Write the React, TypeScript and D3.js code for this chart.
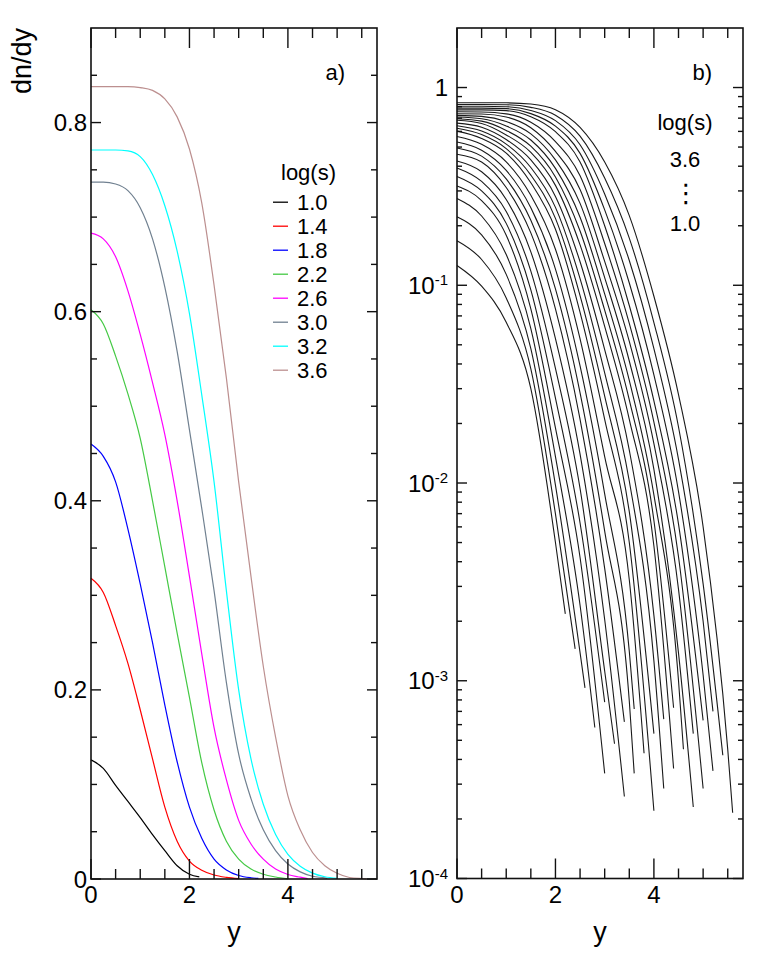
import React from 'react';
import * as d3 from 'd3';

const FONT = '"Liberation Sans", Arial, Helvetica, sans-serif';

// ---- panel a): eight log(s) values, dn/dy read every 0.25 in y ----
const fineY = [0, 0.25, 0.5, 0.75, 1, 1.25, 1.5, 1.75, 2, 2.25, 2.5, 2.75, 3, 3.25, 3.5, 3.75, 4, 4.25, 4.5, 4.75, 5, 5.25, 5.5];

const panelALabels = ['1.0', '1.4', '1.8', '2.2', '2.6', '3.0', '3.2', '3.6'];
const panelAColors = ['#000000', '#ff0000', '#0000ff', '#44c944', '#ff00ff', '#708090', '#00ffff', '#bc8f8f'];

const dndyA10 = [0.126, 0.117, 0.099, 0.082, 0.065, 0.047, 0.030, 0.014, 0.005];
const dndyA14 = [0.318, 0.303, 0.268, 0.228, 0.179, 0.127, 0.076, 0.040, 0.019, 0.0093, 0.0042, 0.0017];
const dndyA18 = [0.460, 0.447, 0.420, 0.370, 0.312, 0.250, 0.184, 0.124, 0.076, 0.043, 0.021, 0.0096, 0.0037, 0.0013];
const dndyA22 = [0.602, 0.587, 0.553, 0.513, 0.466, 0.400, 0.330, 0.260, 0.192, 0.123, 0.073, 0.040, 0.021, 0.0105, 0.0050, 0.0021];
const dndyA26 = [0.683, 0.677, 0.658, 0.622, 0.576, 0.525, 0.470, 0.400, 0.320, 0.238, 0.160, 0.105, 0.062, 0.037, 0.021, 0.0105, 0.0048, 0.0019];
const dndyA30 = [0.737, 0.737, 0.735, 0.728, 0.710, 0.677, 0.626, 0.558, 0.475, 0.392, 0.305, 0.208, 0.132, 0.085, 0.052, 0.030, 0.0158, 0.0075, 0.0029, 0.0011];
const dndyA32 = [0.771, 0.771, 0.771, 0.770, 0.764, 0.745, 0.712, 0.664, 0.598, 0.512, 0.420, 0.305, 0.200, 0.127, 0.079, 0.047, 0.026, 0.0135, 0.0062, 0.0024];
const dndyA36 = [0.838, 0.838, 0.838, 0.838, 0.837, 0.834, 0.825, 0.806, 0.772, 0.715, 0.628, 0.530, 0.420, 0.320, 0.225, 0.150, 0.088, 0.052, 0.028, 0.014, 0.0060, 0.0016, 0.00045];
const panelAValues = [dndyA10, dndyA14, dndyA18, dndyA22, dndyA26, dndyA30, dndyA32, dndyA36];
const panelAEndY = [2.2, 3.0, 3.4, 4.0, 4.4, 4.8, 5.0, 5.6];
const panelAEndV = [0.0022, 0.00034, 0.00062, 0.00022, 0.00036, 0.00054, 0.00063, 0.000215];

// ---- panel b): log(s) = 1.0 ... 3.6, dn/dy read every 0.5 in y ----
const coarseY = [0, 0.5, 1, 1.5, 2, 2.5, 3, 3.5, 4, 4.5, 5, 5.5];

const panelBLogS = [1.0, 1.1, 1.2, 1.3, 1.4, 1.5, 1.6, 1.7, 1.8, 1.9, 2.0, 2.1, 2.2, 2.3, 2.4, 2.5, 2.6, 2.7, 2.8, 2.9, 3.0, 3.1, 3.2, 3.3, 3.4, 3.5, 3.6];
const panelBValues = [
  [0.126, 0.099, 0.065, 0.030, 0.005],
  [0.168, 0.135, 0.0863, 0.0378, 0.00698],
  [0.222, 0.180, 0.1135, 0.0478, 0.00975],
  [0.275, 0.224, 0.143, 0.0603, 0.0136, 0.00241],
  [0.318, 0.268, 0.179, 0.076, 0.019, 0.0042],
  [0.355, 0.300, 0.2056, 0.0948, 0.0269, 0.00628],
  [0.392, 0.335, 0.236, 0.118, 0.0380, 0.00938, 0.00112],
  [0.425, 0.375, 0.2716, 0.1476, 0.0537, 0.0140, 0.00204],
  [0.460, 0.420, 0.312, 0.184, 0.076, 0.021, 0.0037],
  [0.495, 0.450, 0.345, 0.213, 0.0958, 0.0286, 0.00571, 0.00079],
  [0.530, 0.482, 0.381, 0.2466, 0.1208, 0.0391, 0.00881, 0.00141],
  [0.565, 0.516, 0.421, 0.2853, 0.1522, 0.0535, 0.0136, 0.00324],
  [0.602, 0.553, 0.466, 0.330, 0.192, 0.073, 0.021, 0.0050],
  [0.622, 0.578, 0.491, 0.3606, 0.218, 0.0887, 0.0275, 0.00716],
  [0.641, 0.603, 0.5176, 0.394, 0.2477, 0.108, 0.0361, 0.01024, 0.00126],
  [0.661, 0.630, 0.546, 0.4305, 0.2815, 0.1315, 0.0473, 0.01466, 0.00214],
  [0.683, 0.658, 0.576, 0.470, 0.320, 0.160, 0.062, 0.021, 0.0048],
  [0.695, 0.676, 0.607, 0.505, 0.353, 0.188, 0.0748, 0.0263, 0.00646],
  [0.709, 0.695, 0.639, 0.5427, 0.390, 0.2208, 0.0904, 0.0330, 0.00871, 0.0010],
  [0.723, 0.715, 0.673, 0.583, 0.4305, 0.2594, 0.1094, 0.0414, 0.01173, 0.00138],
  [0.737, 0.735, 0.710, 0.626, 0.475, 0.305, 0.132, 0.052, 0.0158, 0.0029],
  [0.754, 0.752, 0.736, 0.6676, 0.533, 0.3577, 0.1626, 0.0641, 0.0203, 0.00424],
  [0.771, 0.771, 0.764, 0.712, 0.598, 0.420, 0.200, 0.079, 0.026, 0.0062],
  [0.787, 0.787, 0.782, 0.738, 0.638, 0.4645, 0.2407, 0.1027, 0.0352, 0.00904, 0.00107],
  [0.804, 0.804, 0.800, 0.766, 0.680, 0.5134, 0.2897, 0.1334, 0.0478, 0.01317, 0.0020],
  [0.820, 0.820, 0.818, 0.794, 0.7244, 0.5675, 0.3487, 0.1732, 0.0648, 0.0192, 0.00309],
  [0.838, 0.838, 0.837, 0.825, 0.772, 0.628, 0.420, 0.225, 0.088, 0.028, 0.0060, 0.00045],
];
const panelBEndY = [2.2, 2.4, 2.6, 2.8, 3.0, 3.0, 3.2, 3.4, 3.4, 3.6, 3.6, 3.8, 4.0, 4.0, 4.2, 4.2, 4.4, 4.4, 4.6, 4.8, 4.8, 5.0, 5.0, 5.2, 5.2, 5.4, 5.6];
const panelBEndV = [0.00218, 0.00145, 0.00092, 0.00058, 0.00034, 0.00078, 0.00048, 0.00026, 0.00062, 0.00034, 0.00072, 0.00043, 0.00022, 0.00054, 0.000285, 0.00064, 0.00036, 0.00073, 0.00045, 0.00023, 0.00054, 0.000285, 0.00063, 0.00035, 0.00070, 0.00042, 0.000215];

// ---- ticks ----
const yMajorTicks = [0, 2, 4];
const yMinorTicks = [0.5, 1, 1.5, 2.5, 3, 3.5, 4.5, 5, 5.5];
const linMajorTicks = [0, 0.2, 0.4, 0.6, 0.8];
const linMinorTicks = [0.05, 0.1, 0.15, 0.25, 0.3, 0.35, 0.45, 0.5, 0.55, 0.65, 0.7, 0.75, 0.85];
const logMajorExp = [-4, -3, -2, -1, 0];

const frameA = { left: 91, right: 377, top: 28, bottom: 879 };
const frameB = { left: 457, right: 743, top: 28, bottom: 878.5 };

type Pt = [number, number];

function buildPoints(grid: number[], vals: number[], endY: number, endV: number): Pt[] {
  const pts: Pt[] = vals.map((v, k) => [grid[k], v] as Pt);
  pts.push([endY, endV]);
  return pts;
}

function FrameTicks({ f, x, y, yMaj, yMin, xMajLen, xMinLen, yMajLen, yMinLen }: any) {
  return (
    <g stroke="#111" strokeWidth={1.4}>
      {yMajorTicks.map((t) => (
        <g key={'xM' + t}>
          <line x1={x(t)} x2={x(t)} y1={f.bottom} y2={f.bottom - xMajLen} />
          <line x1={x(t)} x2={x(t)} y1={f.top} y2={f.top + xMajLen} />
        </g>
      ))}
      {yMinorTicks.map((t) => (
        <g key={'xm' + t}>
          <line x1={x(t)} x2={x(t)} y1={f.bottom} y2={f.bottom - xMinLen} />
          <line x1={x(t)} x2={x(t)} y1={f.top} y2={f.top + xMinLen} />
        </g>
      ))}
      {yMaj.map((t: number) => (
        <g key={'yM' + t}>
          <line x1={f.left} x2={f.left + yMajLen} y1={y(t)} y2={y(t)} />
          <line x1={f.right} x2={f.right - yMajLen} y1={y(t)} y2={y(t)} />
        </g>
      ))}
      {yMin.map((t: number) => (
        <g key={'ym' + t}>
          <line x1={f.left} x2={f.left + yMinLen} y1={y(t)} y2={y(t)} />
          <line x1={f.right} x2={f.right - yMinLen} y1={y(t)} y2={y(t)} />
        </g>
      ))}
      <rect x={f.left} y={f.top} width={f.right - f.left} height={f.bottom - f.top} fill="none" strokeWidth={1.6} />
    </g>
  );
}

export default function App() {
  const xA = d3.scaleLinear().domain([0, 5.81]).range([frameA.left, frameA.right]);
  const yA = d3.scaleLinear().domain([0, 0.9]).range([frameA.bottom, frameA.top]);
  const xB = d3.scaleLinear().domain([0, 5.81]).range([frameB.left, frameB.right]);
  const yB = d3.scaleLog().domain([1e-4, 2]).range([frameB.bottom, frameB.top]);

  const lineA = d3.line<Pt>().x((d) => xA(d[0])).y((d) => yA(d[1])).curve(d3.curveMonotoneX);
  const lineB = d3.line<Pt>().x((d) => xB(d[0])).y((d) => yB(d[1])).curve(d3.curveMonotoneX);

  const logMajor = logMajorExp.map((e) => Math.pow(10, e));
  const logMinor: number[] = [];
  logMajorExp.slice(0, 4).forEach((e) => {
    for (let m = 2; m <= 9; m++) logMinor.push(m * Math.pow(10, e));
  });

  const legendY0 = 210;
  const legendStep = 24;

  return (
    <svg width={763} height={955} style={{ position: 'absolute', left: 0, top: 0, display: 'block', background: '#fff' }} fontFamily={FONT}>
      {/* panel a */}
      <g fill="none" strokeWidth={1.2}>
        {panelAValues.map((vals, i) => (
          <path key={'a' + i} d={lineA(buildPoints(fineY, vals, panelAEndY[i], panelAEndV[i])) || ''} stroke={panelAColors[i]} />
        ))}
      </g>
      <FrameTicks f={frameA} x={xA} y={yA} yMaj={linMajorTicks} yMin={linMinorTicks} xMajLen={20} xMinLen={10} yMajLen={10} yMinLen={6} />
      <g fontSize={24} fill="#000">
        {linMajorTicks.map((t) => (
          <text key={'la' + t} x={frameA.left - 4} y={yA(t) + 8.6} textAnchor="end">{t === 0 ? '0' : t.toFixed(1)}</text>
        ))}
        {yMajorTicks.map((t) => (
          <text key={'xa' + t} x={xA(t)} y={frameA.bottom + 24} textAnchor="middle">{t}</text>
        ))}
      </g>
      <text x={(frameA.left + frameA.right) / 2} y={941} fontSize={27} textAnchor="middle">y</text>
      <text transform="translate(31,28) rotate(-90)" fontSize={27} textAnchor="end">dn/dy</text>
      <text x={345} y={80} fontSize={22} textAnchor="end">a)</text>
      <g fontSize={22}>
        <text x={281} y={180}>log(s)</text>
        {panelALabels.map((lab, i) => (
          <g key={'lg' + lab}>
            <line x1={273} x2={288} y1={legendY0 + i * legendStep - 7.8} y2={legendY0 + i * legendStep - 7.8} stroke={panelAColors[i]} strokeWidth={1.3} />
            <text x={297} y={legendY0 + i * legendStep}>{lab}</text>
          </g>
        ))}
      </g>

      {/* panel b */}
      <g fill="none" strokeWidth={1.1} stroke="#1a1a1a">
        {panelBValues.map((vals, i) => (
          <path key={'b' + panelBLogS[i]} d={lineB(buildPoints(coarseY, vals, panelBEndY[i], panelBEndV[i])) || ''} />
        ))}
      </g>
      <FrameTicks f={frameB} x={xB} y={yB} yMaj={logMajor} yMin={logMinor} xMajLen={20} xMinLen={10} yMajLen={10} yMinLen={5} />
      <g fontSize={24} fill="#000">
        {logMajorExp.map((e) => (
          <text key={'lb' + e} x={frameB.left - 9} y={yB(Math.pow(10, e)) + 8.6} textAnchor="end">
            {e === 0 ? '1' : '10'}
            {e !== 0 && <tspan fontSize={15} dy={-8.5}>{String(e)}</tspan>}
          </text>
        ))}
        {yMajorTicks.map((t) => (
          <text key={'xb' + t} x={xB(t)} y={frameB.bottom + 24} textAnchor="middle">{t}</text>
        ))}
      </g>
      <text x={(frameB.left + frameB.right) / 2} y={941} fontSize={27} textAnchor="middle">y</text>
      <text x={712} y={80} fontSize={22} textAnchor="end">b)</text>
      <g fontSize={22} textAnchor="middle">
        <text x={685} y={130}>log(s)</text>
        <text x={685} y={167}>3.6</text>
        <text x={686} y={202} fontSize={26} fontFamily='"DejaVu Sans", sans-serif'>⋮</text>
        <text x={685} y={231}>1.0</text>
      </g>
    </svg>
  );
}
